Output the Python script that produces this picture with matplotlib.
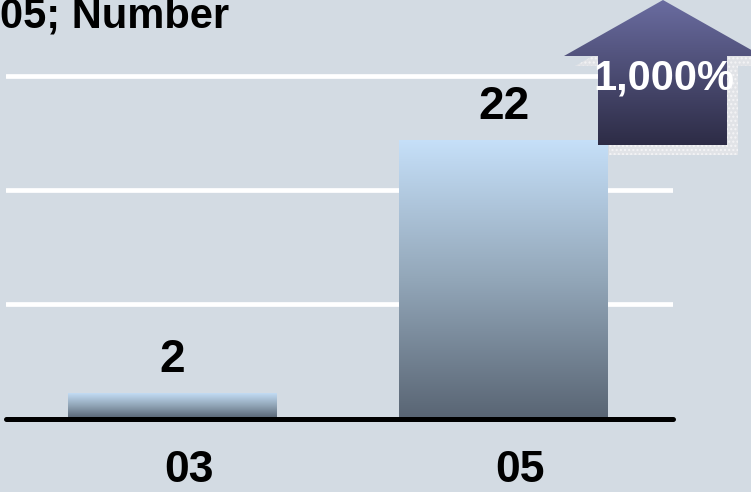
import numpy as np
import matplotlib
matplotlib.use("Agg")
import matplotlib.pyplot as plt
from matplotlib.colors import LinearSegmentedColormap
from matplotlib.patches import Polygon
from matplotlib.transforms import ScaledTranslation

plt.rcParams['font.family'] = ['Liberation Sans', 'DejaVu Sans']

# data
categories = ["03", "05"]
values = [2, 22]
value_labels = ["2", "22"]
gridlevels = [9, 18, 27]
title = "05; Number"
growth_label = "1,000%"

bg = "#d3dbe3"
W, H = 751, 492

fig = plt.figure(figsize=(W / 100, H / 100), dpi=100, facecolor=bg)

# main axes, placed in pixel terms
left, right, base = 6, 673, 418.5
ax = fig.add_axes([left / W, (H - base) / H, (right - left) / W, base / H])
ax.set_facecolor(bg)
for s in ax.spines.values():
    s.set_visible(False)

for g in gridlevels:
    ax.axhline(g, color="white", lw=3.4, solid_capstyle="round", zorder=1)
ax.axhline(0, color="black", lw=3.6, solid_capstyle="round", zorder=4, clip_on=False)

bar_cmap = LinearSegmentedColormap.from_list("bar", ["#596574", "#93a7b9", "#c6e0f9"])
grad = np.linspace(0, 1, 256).reshape(-1, 1)
bars = ax.bar(range(len(values)), values, width=0.63, color="none", edgecolor="none", zorder=2)
for b in bars:
    x0, w, h = b.get_x(), b.get_width(), b.get_height()
    im = ax.imshow(grad, cmap=bar_cmap, extent=(x0, x0 + w, 0, h), origin="lower",
                   aspect="auto", zorder=2, interpolation="bicubic")
    im.set_clip_path(b)
ax.set_xlim(-0.503, 1.512)
ax.set_ylim(0, 33)

for i, (v, lab) in enumerate(zip(values, value_labels)):
    ax.annotate(lab, (i, v), xytext=(0, 15), textcoords="offset points",
                ha="center", va="baseline", fontsize=33, fontweight="bold", color="black")

ax.set_yticks([])
ax.set_xticks(range(len(categories)))
ax.set_xticklabels(categories, fontsize=32, fontweight="bold")
ax.tick_params(axis="x", length=0, pad=23)
shift = ScaledTranslation(16 / 100, 0, fig.dpi_scale_trans)
for t in ax.get_xticklabels():
    t.set_transform(t.get_transform() + shift)

fig.text(0.0, (H - 27) / H, title, fontsize=30, fontweight="bold", va="baseline", ha="left")

# growth arrow overlay
ov = fig.add_axes([0, 0, 1, 1], zorder=5)
ov.axis("off")
ov.patch.set_visible(False)
arrow = [(663, 0), (762, 56), (727, 56), (727, 145), (598, 145), (598, 56), (564, 56)]
shadow = Polygon([(x + 11, y + 10) for x, y in arrow], closed=True, facecolor="#e1e3e7",
                 edgecolor="#f4f4f6", hatch="....", lw=0, zorder=1)
ov.add_patch(shadow)
body = Polygon(arrow, closed=True, facecolor="none", edgecolor="none", zorder=2)
ov.add_patch(body)
arr_cmap = LinearSegmentedColormap.from_list("arr", ["#2d2c46", "#6a6ca0"])
aim = ov.imshow(grad, cmap=arr_cmap, extent=(560, 765, 145, 0), origin="lower",
                aspect="auto", zorder=2)
aim.set_clip_path(body)
ov.set_xlim(0, W)
ov.set_ylim(H, 0)
ov.text(664, 78, growth_label, color="white", fontsize=30, fontweight="bold",
        ha="center", va="center", zorder=3)

fig.savefig("out.png", dpi=100, facecolor=bg)
